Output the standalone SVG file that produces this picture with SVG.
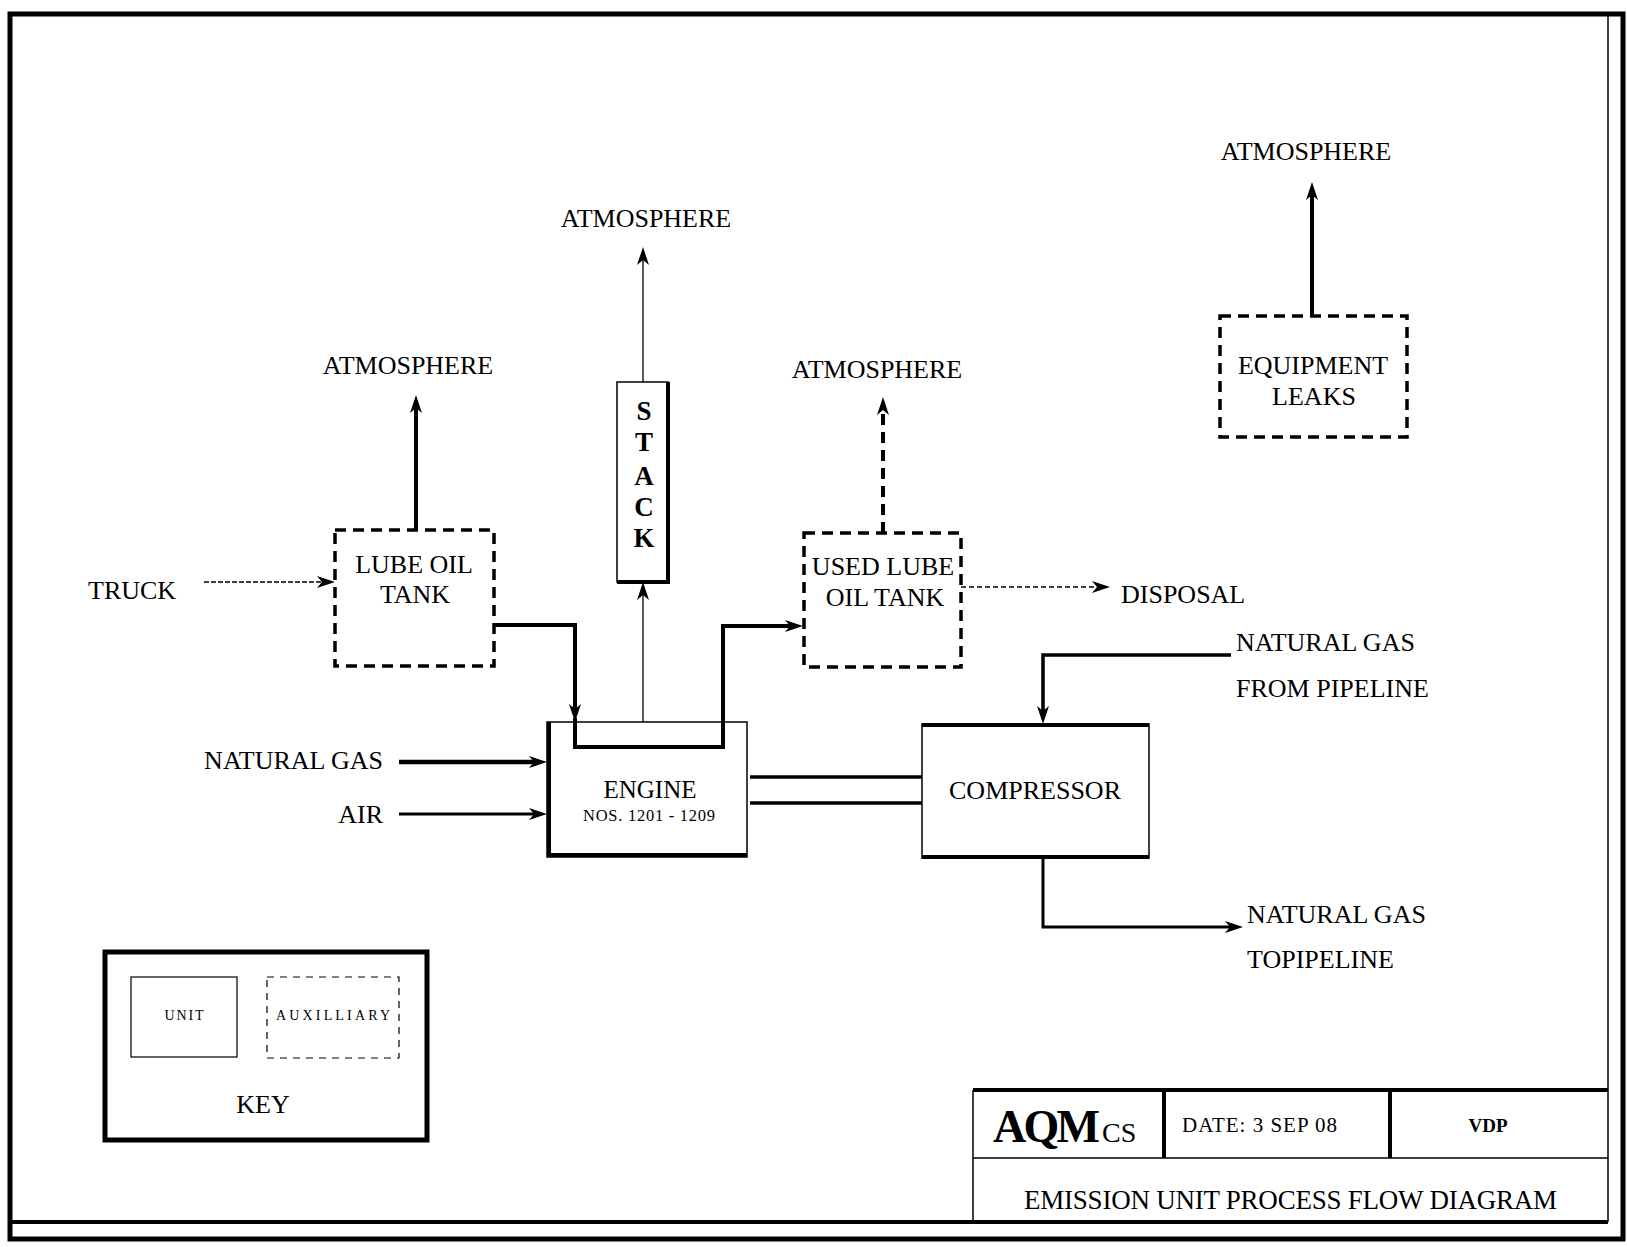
<svg xmlns="http://www.w3.org/2000/svg" width="1627" height="1247" viewBox="0 0 1627 1247">
<defs>
<style>
text{font-family:"Liberation Serif","Times New Roman",serif;fill:#000;}
.t26{font-size:26px;}
.dash{fill:none;stroke:#000;stroke-width:3.5;stroke-dasharray:11 7;}
.line{stroke:#000;fill:none;}
.stk{font-size:27px;font-weight:bold;}
</style>
<marker id="ah" viewBox="0 0 18 12" refX="5" refY="6" markerWidth="18" markerHeight="12" markerUnits="userSpaceOnUse" orient="auto">
<path d="M0,0 L18,6 L0,12 L5,6 z" fill="#000"/>
</marker>
</defs>
<rect width="1627" height="1247" fill="#fff"/>

<g id="frame">
<rect x="10" y="14" width="1613" height="1225" fill="none" stroke="#000" stroke-width="5"/>
<line x1="10" y1="1222" x2="1608" y2="1222" stroke="#000" stroke-width="4"/>
<line x1="1608" y1="14" x2="1608" y2="1222" stroke="#000" stroke-width="1.5"/>
</g>

<g id="connectors">
<line class="line" x1="204" y1="582" x2="322" y2="582" stroke-width="1.3" stroke-dasharray="5 2" marker-end="url(#ah)"/>
<line class="line" x1="416" y1="530" x2="416" y2="408" stroke-width="4" marker-end="url(#ah)"/>
<line class="line" x1="643" y1="382" x2="643" y2="260" stroke-width="1.3" marker-end="url(#ah)"/>
<line class="line" x1="643" y1="722" x2="643" y2="595" stroke-width="1.3" marker-end="url(#ah)"/>
<path class="line" d="M494,625 H575 V709" stroke-width="4" marker-end="url(#ah)"/>
<path class="line" d="M575,718 V747 H723 V626 H790" stroke-width="4" marker-end="url(#ah)"/>
<line class="line" x1="883" y1="533" x2="883" y2="410" stroke-width="4" stroke-dasharray="11 7" marker-end="url(#ah)"/>
<line class="line" x1="961" y1="587" x2="1097" y2="587" stroke-width="1.3" stroke-dasharray="5 3" marker-end="url(#ah)"/>
<line class="line" x1="1312" y1="316" x2="1312" y2="195" stroke-width="4" marker-end="url(#ah)"/>
<line class="line" x1="399" y1="762" x2="534" y2="762" stroke-width="4.5" marker-end="url(#ah)"/>
<line class="line" x1="399" y1="814" x2="534" y2="814" stroke-width="3" marker-end="url(#ah)"/>
<line class="line" x1="750" y1="777" x2="922" y2="777" stroke-width="3.5"/>
<line class="line" x1="750" y1="803" x2="922" y2="803" stroke-width="3.5"/>
<path class="line" d="M1231,655 H1043 V711" stroke-width="3.5" marker-end="url(#ah)"/>
<path class="line" d="M1043,858 V927 H1230" stroke-width="3" marker-end="url(#ah)"/>
</g>

<g id="atm-stack"><text class="t26" x="646" y="227" text-anchor="middle">ATMOSPHERE</text></g>
<g id="atm-lube"><text class="t26" x="408" y="374" text-anchor="middle">ATMOSPHERE</text></g>
<g id="atm-used"><text class="t26" x="877" y="378" text-anchor="middle">ATMOSPHERE</text></g>
<g id="atm-equip"><text class="t26" x="1306" y="160" text-anchor="middle">ATMOSPHERE</text></g>
<g id="truck"><text class="t26" x="88" y="599">TRUCK</text></g>
<g id="disposal"><text class="t26" x="1121" y="603">DISPOSAL</text></g>
<g id="ng-in"><text class="t26" x="383" y="769" text-anchor="end">NATURAL GAS</text></g>
<g id="air"><text class="t26" x="383" y="823" text-anchor="end">AIR</text></g>
<g id="ng-from"><text class="t26" x="1236" y="651">NATURAL GAS</text><text class="t26" x="1236" y="697">FROM PIPELINE</text></g>
<g id="ng-to"><text class="t26" x="1247" y="923">NATURAL GAS</text><text class="t26" x="1247" y="968">TOPIPELINE</text></g>

<g id="lube-oil-tank">
<rect class="dash" x="335" y="530" width="159" height="136"/>
<text class="t26" x="414" y="573" text-anchor="middle">LUBE OIL</text>
<text class="t26" x="415" y="603" text-anchor="middle">TANK</text>
</g>

<g id="stack">
<rect x="617" y="382" width="51" height="200" fill="#fff" stroke="#000" stroke-width="1.5"/>
<path d="M668,382 V582 H617" fill="none" stroke="#000" stroke-width="4"/>
<text class="stk" x="644" y="420" text-anchor="middle">S</text>
<text class="stk" x="644" y="451" text-anchor="middle">T</text>
<text class="stk" x="644" y="485" text-anchor="middle">A</text>
<text class="stk" x="644" y="516" text-anchor="middle">C</text>
<text class="stk" x="644" y="547" text-anchor="middle">K</text>
</g>

<g id="used-lube-oil-tank">
<rect class="dash" x="804" y="533" width="157" height="134"/>
<text class="t26" x="883" y="575" text-anchor="middle">USED LUBE</text>
<text class="t26" x="885" y="606" text-anchor="middle">OIL TANK</text>
</g>

<g id="equipment-leaks">
<rect class="dash" x="1220" y="316" width="187" height="121"/>
<text class="t26" x="1313" y="374" text-anchor="middle">EQUIPMENT</text>
<text class="t26" x="1314" y="405" text-anchor="middle">LEAKS</text>
</g>

<g id="engine">
<rect x="547" y="722" width="200" height="135" fill="none" stroke="#000" stroke-width="1.5"/>
<path d="M549,722 V855 H747" fill="none" stroke="#000" stroke-width="4"/>
<text x="650" y="798" font-size="25" text-anchor="middle">ENGINE</text>
<text x="649" y="821" font-size="16.5" text-anchor="middle" textLength="132">NOS. 1201 - 1209</text>
</g>

<g id="compressor">
<rect x="922" y="724" width="227" height="134" fill="none" stroke="#000" stroke-width="1.5"/>
<line x1="922" y1="725" x2="1149" y2="725" stroke="#000" stroke-width="4"/>
<line x1="922" y1="857" x2="1149" y2="857" stroke="#000" stroke-width="4"/>
<text class="t26" x="1035" y="799" text-anchor="middle">COMPRESSOR</text>
</g>

<g id="key">
<rect x="105" y="952" width="322" height="188" fill="none" stroke="#000" stroke-width="5"/>
<rect x="131" y="977" width="106" height="80" fill="none" stroke="#000" stroke-width="1.2"/>
<rect x="267" y="977" width="132" height="81" fill="none" stroke="#000" stroke-width="1.2" stroke-dasharray="7 6"/>
<text x="184" y="1020" font-size="14" text-anchor="middle" textLength="39">UNIT</text>
<text x="333" y="1020" font-size="14" text-anchor="middle" textLength="114">AUXILLIARY</text>
<text x="263" y="1113" font-size="26" text-anchor="middle">KEY</text>
</g>

<g id="title-block">
<line x1="973" y1="1090" x2="1608" y2="1090" stroke="#000" stroke-width="4"/>
<line x1="973" y1="1090" x2="973" y2="1222" stroke="#000" stroke-width="1.5"/>
<line x1="973" y1="1158" x2="1608" y2="1158" stroke="#000" stroke-width="1.5"/>
<line x1="1164" y1="1090" x2="1164" y2="1158" stroke="#000" stroke-width="4"/>
<line x1="1390" y1="1090" x2="1390" y2="1158" stroke="#000" stroke-width="4"/>
<text x="993" y="1142" font-size="46" font-weight="bold" textLength="107">AQM</text>
<text x="1102" y="1142" font-size="28">CS</text>
<text x="1182" y="1132" font-size="21" textLength="155">DATE: 3 SEP 08</text>
<text x="1488" y="1132" font-size="19" font-weight="bold" text-anchor="middle">VDP</text>
<text x="1024" y="1209" font-size="27" textLength="533">EMISSION UNIT PROCESS FLOW DIAGRAM</text>
</g>
</svg>
